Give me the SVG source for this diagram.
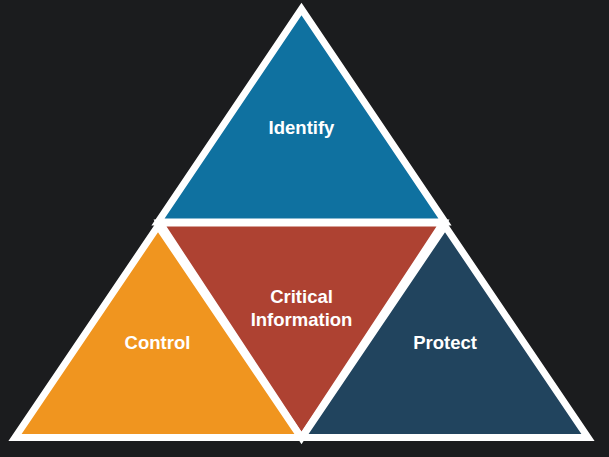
<svg xmlns="http://www.w3.org/2000/svg" width="609" height="457" viewBox="0 0 609 457">
<style>
.tri{stroke:#ffffff;stroke-width:7;stroke-linejoin:miter;stroke-miterlimit:10}
.lbl{font-family:"Liberation Sans",Arial,sans-serif;font-weight:bold;font-size:18.5px;fill:#ffffff;text-anchor:middle}
</style>
<rect width="609" height="457" fill="#1b1c1e"/>
<g id="connectors"></g>
<g id="identify">
<polygon class="tri" points="301.5,9 158,222 445,222" fill="#0f71a0"/>
<text class="lbl" x="301.5" y="134">Identify</text>
</g>
<g id="critical-information">
<polygon class="tri" points="160,223 443,223 301.5,438" fill="#ae4232"/>
<text class="lbl" x="301.5" y="303">Critical</text>
<text class="lbl" x="301.5" y="326">Information</text>
</g>
<g id="control">
<polygon class="tri" points="158,226 15,437.5 301,437.5" fill="#f0951f"/>
<text class="lbl" x="157.5" y="349">Control</text>
</g>
<g id="protect">
<polygon class="tri" points="445,226 302,437.5 588,437.5" fill="#21445e"/>
<text class="lbl" x="445" y="349">Protect</text>
</g>
</svg>
